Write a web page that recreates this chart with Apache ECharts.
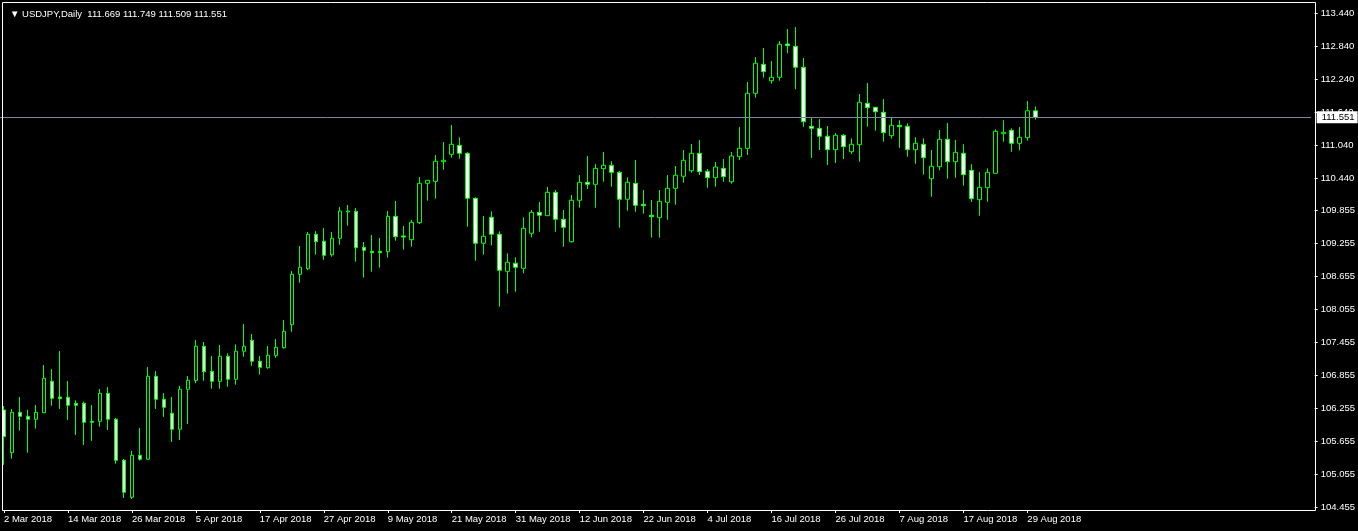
<!DOCTYPE html>
<html>
<head>
<meta charset="utf-8">
<script src="https://cdn.jsdelivr.net/npm/echarts@6/dist/echarts.min.js"></script>
<style>
html,body{margin:0;padding:0;background:#000;}
#chart{width:1358px;height:531px;}
</style>
</head>
<body>
<div id="chart"></div>
<script>
// ---- categories (trading days, 2018) ----
const dates = [
"2 Mar","5 Mar","6 Mar","7 Mar","8 Mar","9 Mar","12 Mar","13 Mar","14 Mar","15 Mar","16 Mar","19 Mar","20 Mar","21 Mar","22 Mar","23 Mar","26 Mar","27 Mar","28 Mar","29 Mar","30 Mar",
"2 Apr","3 Apr","4 Apr","5 Apr","6 Apr","9 Apr","10 Apr","11 Apr","12 Apr","13 Apr","16 Apr","17 Apr","18 Apr","19 Apr","20 Apr","23 Apr","24 Apr","25 Apr","26 Apr","27 Apr","30 Apr",
"1 May","2 May","3 May","4 May","7 May","8 May","9 May","10 May","11 May","14 May","15 May","16 May","17 May","18 May","21 May","22 May","23 May","24 May","25 May","28 May","29 May","30 May","31 May",
"1 Jun","4 Jun","5 Jun","6 Jun","7 Jun","8 Jun","11 Jun","12 Jun","13 Jun","14 Jun","15 Jun","18 Jun","19 Jun","20 Jun","21 Jun","22 Jun","25 Jun","26 Jun","27 Jun","28 Jun","29 Jun",
"2 Jul","3 Jul","4 Jul","5 Jul","6 Jul","9 Jul","10 Jul","11 Jul","12 Jul","13 Jul","16 Jul","17 Jul","18 Jul","19 Jul","20 Jul","23 Jul","24 Jul","25 Jul","26 Jul","27 Jul","30 Jul","31 Jul",
"1 Aug","2 Aug","3 Aug","6 Aug","7 Aug","8 Aug","9 Aug","10 Aug","13 Aug","14 Aug","15 Aug","16 Aug","17 Aug","20 Aug","21 Aug","22 Aug","23 Aug","24 Aug","27 Aug","28 Aug","29 Aug","30 Aug"
];
const year = "2018";
const emptySlots = 34; // chart shift space on the right

// ---- OHLC values ----
const openP = [
106.222,105.445,106.180,106.107,106.053,106.173,106.744,106.459,106.453,106.344,
106.344,106.016,106.016,106.526,106.053,105.306,104.633,105.397,105.325,106.836,
106.417,106.162,105.871,106.599,106.759,107.382,106.926,106.744,107.200,106.781,
107.291,107.491,107.109,106.992,107.211,107.356,107.775,108.692,108.794,109.421,
109.293,109.049,109.348,109.827,109.839,109.184,109.111,109.111,109.104,109.748,
109.390,109.322,109.632,110.349,110.385,110.742,110.877,111.041,110.895,110.076,
109.257,109.730,109.421,108.747,108.893,108.802,109.439,109.821,109.759,110.185,
109.694,109.286,110.040,110.367,110.331,110.615,110.677,110.549,110.058,110.349,
109.967,109.767,109.723,110.003,110.258,110.477,110.578,110.895,110.567,110.451,
110.622,110.378,110.833,110.986,111.988,112.515,112.217,112.279,112.885,112.843,
112.461,111.387,111.350,111.205,110.961,111.223,110.924,111.052,111.805,111.733,
111.642,111.216,111.405,111.387,110.961,111.059,110.433,110.651,111.150,110.742,
110.895,110.586,110.051,110.269,110.531,111.252,111.314,111.077,111.179,111.669
];
const highP = [
106.295,106.240,106.459,106.227,106.313,107.041,106.968,107.296,106.750,106.399,
106.373,106.313,106.604,106.641,106.076,105.330,105.476,105.894,107.005,106.932,
106.531,106.459,106.659,106.841,107.496,107.460,107.205,107.405,107.254,107.418,
107.788,107.606,107.205,107.387,107.515,107.860,108.752,109.208,109.462,109.481,
109.535,109.462,109.918,109.954,109.899,109.280,109.408,109.353,109.845,110.027,
109.572,109.681,110.464,110.409,110.864,111.101,111.410,111.187,110.913,110.094,
109.754,109.839,109.475,109.075,109.002,109.730,109.863,110.009,110.282,110.227,
109.863,110.136,110.500,110.846,110.700,110.919,110.750,110.573,110.458,110.773,
110.227,110.045,110.227,110.500,110.664,110.955,111.065,111.137,110.609,110.737,
110.791,110.919,111.374,112.193,112.648,112.812,112.576,112.940,113.158,113.194,
112.630,111.556,111.520,111.392,111.265,111.247,111.168,111.975,112.175,111.733,
111.884,111.538,111.496,111.441,111.187,111.168,110.955,111.319,111.447,111.137,
111.059,110.695,110.549,110.622,111.332,111.496,111.350,111.374,111.847,111.749
];
const lowP = [
105.221,105.335,105.845,105.445,105.882,106.162,106.300,106.240,106.040,105.767,
105.585,105.658,105.918,105.858,105.244,104.620,104.602,105.299,105.312,106.240,
106.095,105.639,105.676,105.967,106.708,106.755,106.610,106.610,106.646,106.683,
107.192,107.028,106.865,106.974,107.174,107.338,107.647,108.539,108.771,109.049,
108.958,109.013,109.231,109.577,108.922,108.631,108.740,108.813,108.995,109.304,
109.140,109.195,109.608,110.032,110.069,110.597,110.815,110.797,109.559,108.940,
109.049,109.220,108.103,108.339,108.376,108.711,109.366,109.468,109.759,109.468,
109.195,109.268,109.905,110.245,109.905,110.378,110.287,109.541,109.850,109.832,
109.796,109.359,109.359,109.686,109.959,110.360,110.542,110.500,110.269,110.287,
110.378,110.342,110.773,110.864,111.907,112.272,112.162,112.217,112.716,112.060,
111.379,110.810,110.955,110.682,110.719,110.791,110.882,110.742,111.379,111.307,
111.106,111.161,110.997,110.833,110.706,110.506,110.105,110.586,110.433,110.451,
110.305,110.009,109.759,110.014,110.531,111.106,110.924,110.950,111.125,111.509
];
const closeP = [
105.736,106.180,106.107,106.053,106.180,106.799,106.435,106.428,106.308,106.308,
105.998,105.998,106.526,106.053,105.306,104.724,105.397,105.325,106.836,106.417,
106.271,105.871,106.599,106.763,107.383,106.919,106.744,107.200,106.781,107.291,
107.382,107.109,106.999,107.218,107.363,107.655,108.692,108.820,109.421,109.286,
109.038,109.348,109.845,109.845,109.177,109.129,109.086,109.086,109.748,109.377,
109.371,109.639,110.349,110.404,110.750,110.768,111.059,110.895,110.076,109.257,
109.384,109.421,108.765,108.911,108.820,109.530,109.821,109.767,110.185,109.694,
109.548,110.040,110.367,110.331,110.622,110.677,110.549,110.058,110.367,109.949,
109.941,109.741,110.021,110.258,110.495,110.768,110.895,110.560,110.451,110.646,
110.469,110.846,110.986,111.988,112.534,112.381,112.279,112.880,112.854,112.461,
111.470,111.350,111.205,110.961,111.223,111.015,111.059,111.824,111.725,111.652,
111.270,111.405,111.379,110.961,111.077,110.815,110.659,111.150,110.742,110.913,
110.506,110.069,110.276,110.549,111.296,111.278,111.077,111.187,111.669,111.551
];

// ---- price-scale tick labels ----
const yTicks = [113.440,112.840,112.240,111.640,111.040,110.440,109.855,109.255,108.655,108.055,107.455,106.855,106.255,105.655,105.055,104.455];
const symbolName = "USDJPY,Daily";

// ---- build ----
const categories = dates.concat(Array.from({length: emptySlots}, (_, k) => "s" + k));
const candles = dates.map((d, i) => [openP[i], closeP[i], lowP[i], highP[i]]);
const last = dates.length - 1;
const headerText = "\u25BC " + symbolName + "  " +
  [openP[last], highP[last], lowP[last], closeP[last]].map(v => v.toFixed(3)).join(" ");

const FONT = "'Liberation Sans', Arial, sans-serif";
const showIdx = (idx) => idx % 8 === 0 && idx < dates.length;

const chart = echarts.init(document.getElementById('chart'), null, {renderer: 'canvas'});
chart.setOption({
  backgroundColor: '#000000',
  animation: false,
  title: {
    text: headerText,
    left: 5, top: 4,
    textStyle: {color: '#ffffff', fontFamily: FONT, fontSize: 9.5, fontWeight: 'normal'}
  },
  grid: {left: -0.5, top: 2, width: 8 * categories.length, bottom: 21, containLabel: false},
  graphic: [{
    type: 'rect', silent: true, z: 100,
    shape: {x: 2.5, y: 2.5, width: 1313, height: 508},
    style: {fill: null, stroke: '#ffffff', lineWidth: 1}
  }],
  xAxis: {
    type: 'category',
    data: categories,
    boundaryGap: true,
    axisLine: {show: false},
    axisTick: {show: true, interval: showIdx, alignWithLabel: true, length: 3, lineStyle: {color: '#ffffff'}},
    axisLabel: {
      interval: showIdx, align: 'left', margin: 4,
      color: '#ffffff', fontFamily: FONT, fontSize: 9.5,
      formatter: v => v + ' ' + year
    },
    splitLine: {show: false}
  },
  yAxis: {
    type: 'value',
    position: 'right',
    offset: 3.5,
    min: 104.4014, max: 113.6496,
    scale: true,
    axisLine: {show: false},
    axisTick: {show: true, length: 3, customValues: yTicks, lineStyle: {color: '#ffffff'}},
    axisLabel: {
      customValues: yTicks, margin: 6,
      color: '#ffffff', fontFamily: FONT, fontSize: 9.5,
      formatter: v => Number(v).toFixed(3)
    },
    splitLine: {show: false}
  },
  series: [{
    type: 'candlestick',
    data: candles,
    barWidth: 4,
    itemStyle: {
      color: '#000000', color0: '#ffffff',
      borderColor: '#00ff00', borderColor0: '#00ff00', borderColorDoji: '#00ff00',
      borderWidth: 1
    },
    markLine: {
      silent: true,
      symbol: ['none', 'none'],
      animation: false,
      lineStyle: {color: '#778899', width: 1, type: 'solid'},
      label: {
        show: true, position: 'end', distance: 5.5,
        formatter: () => closeP[last].toFixed(3),
        color: '#000000', backgroundColor: '#ffffff',
        fontFamily: FONT, fontSize: 9.5, padding: [1, 3, 1, 5]
      },
      emphasis: {disabled: true},
      data: [{yAxis: closeP[last]}]
    }
  }]
});
</script>
</body>
</html>
